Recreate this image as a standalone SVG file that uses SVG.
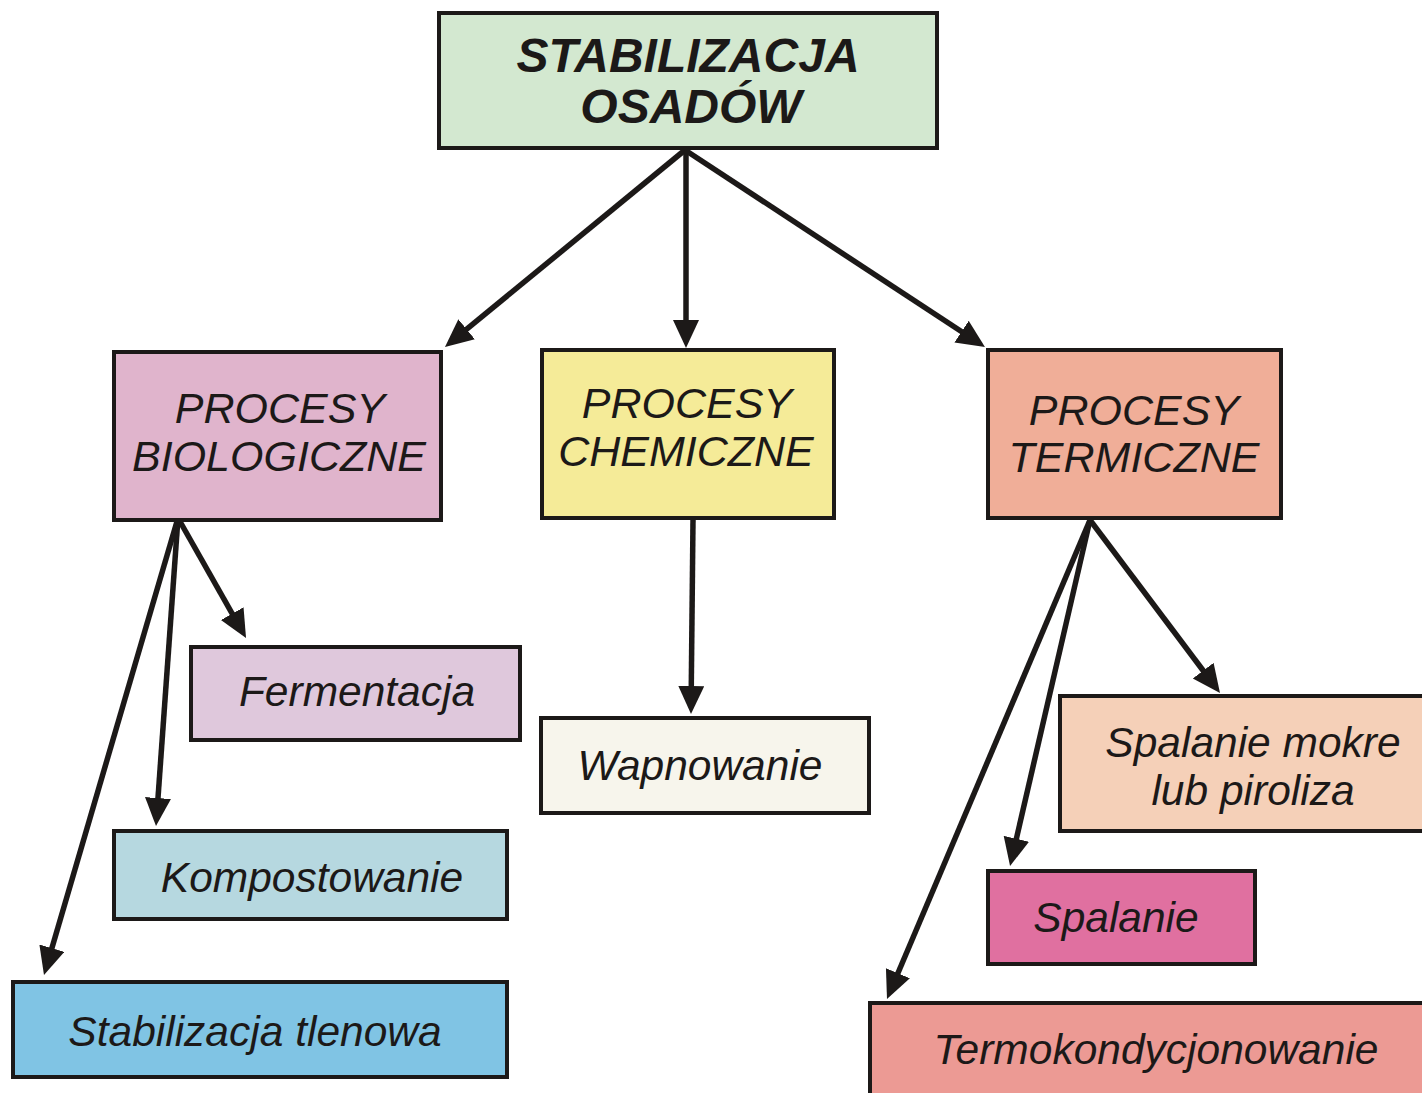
<svg xmlns="http://www.w3.org/2000/svg" width="1422" height="1093" viewBox="0 0 1422 1093">
  <style>
    .box { stroke: #1c1918; stroke-width: 4; }
    .lbl { font-family: "Liberation Sans", Arial, sans-serif; font-style: italic; fill: #1c1918; text-anchor: middle; }
    .title { font-weight: bold; font-size: 48px; }
    .proc { font-size: 43px; }
    .leaf { font-size: 42.5px; }
    .edge { stroke: #1c1918; stroke-width: 5.5; fill: none; marker-end: url(#arrow); }
  </style>
  <defs>
    <marker id="arrow" markerUnits="userSpaceOnUse" markerWidth="30" markerHeight="28" refX="18" refY="13" orient="auto">
      <path d="M0,0 L28,13 L0,26 z" fill="#1c1918"/>
    </marker>
  </defs>
  <rect width="1422" height="1093" fill="#ffffff"/>

  <g id="connectors">
    <line class="edge" x1="685" y1="150" x2="452.7" y2="340.7"/>
    <line class="edge" x1="686" y1="150" x2="686" y2="338"/>
    <line class="edge" x1="685" y1="150" x2="976.6" y2="341.5"/>
    <line class="edge" x1="178" y1="518" x2="241.1" y2="629.3"/>
    <line class="edge" x1="178" y1="518" x2="156.7" y2="816"/>
    <line class="edge" x1="178" y1="518" x2="46.8" y2="965.4"/>
    <line class="edge" x1="693" y1="520" x2="691.1" y2="704"/>
    <line class="edge" x1="1090" y1="520" x2="1214" y2="685"/>
    <line class="edge" x1="1090" y1="520" x2="1012.3" y2="856.3"/>
    <line class="edge" x1="1090" y1="520" x2="890.9" y2="989.8"/>
  </g>

  <g id="stabilizacja-osadow">
    <rect class="box" x="439" y="13" width="498" height="135" fill="#d3e8d0"/>
    <text class="lbl title" x="688" y="72">STABILIZACJA</text>
    <text class="lbl title" x="691" y="123">OSADÓW</text>
  </g>

  <g id="procesy-biologiczne">
    <rect class="box" x="114" y="352" width="327" height="168" fill="#e0b4cc"/>
    <text class="lbl proc" x="280" y="423">PROCESY</text>
    <text class="lbl proc" x="279" y="471">BIOLOGICZNE</text>
  </g>

  <g id="procesy-chemiczne">
    <rect class="box" x="542" y="350" width="292" height="168" fill="#f5eb98"/>
    <text class="lbl proc" x="687" y="418">PROCESY</text>
    <text class="lbl proc" x="686" y="466">CHEMICZNE</text>
  </g>

  <g id="procesy-termiczne">
    <rect class="box" x="988" y="350" width="293" height="168" fill="#f0ae98"/>
    <text class="lbl proc" x="1134" y="425">PROCESY</text>
    <text class="lbl proc" x="1134" y="472">TERMICZNE</text>
  </g>

  <g id="fermentacja">
    <rect class="box" x="191" y="647" width="329" height="93" fill="#dfc8dc"/>
    <text class="lbl leaf" x="357" y="706">Fermentacja</text>
  </g>

  <g id="kompostowanie">
    <rect class="box" x="114" y="831" width="393" height="88" fill="#b6d8e0"/>
    <text class="lbl leaf" x="312" y="892">Kompostowanie</text>
  </g>

  <g id="stabilizacja-tlenowa">
    <rect class="box" x="13" y="982" width="494" height="95" fill="#80c4e4"/>
    <text class="lbl leaf" x="255" y="1046">Stabilizacja tlenowa</text>
  </g>

  <g id="wapnowanie">
    <rect class="box" x="541" y="718" width="328" height="95" fill="#f7f5ec"/>
    <text class="lbl leaf" x="700" y="780">Wapnowanie</text>
  </g>

  <g id="spalanie-mokre">
    <rect class="box" x="1060" y="696" width="366" height="135" fill="#f5d0b8"/>
    <text class="lbl leaf" x="1253" y="757">Spalanie mokre</text>
    <text class="lbl leaf" x="1253" y="805">lub piroliza</text>
  </g>

  <g id="spalanie">
    <rect class="box" x="988" y="871" width="267" height="93" fill="#e070a0"/>
    <text class="lbl leaf" x="1116" y="932">Spalanie</text>
  </g>

  <g id="termokondycjonowanie">
    <rect class="box" x="870" y="1003" width="560" height="100" fill="#ec9a94"/>
    <text class="lbl leaf" x="1156" y="1064">Termokondycjonowanie</text>
  </g>
</svg>
